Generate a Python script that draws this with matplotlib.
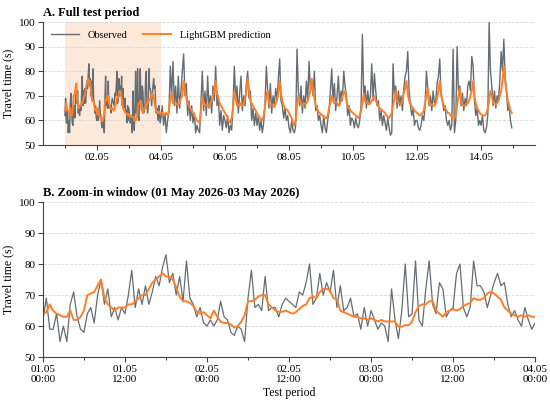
import numpy as np
import pandas as pd
import matplotlib
matplotlib.use('Agg')
import matplotlib.pyplot as plt
import matplotlib.dates as mdates

plt.rcParams['font.family'] = ['Liberation Serif', 'DejaVu Serif']

# zoom-in window, 30 min steps, 01.05 00:00 -> 04.05 00:00
zoom_obs = [62, 69, 59, 59, 64, 55, 60, 55, 67, 71, 63, 59, 58, 64, 66, 61, 70, 75, 67, 72, 63, 66, 62, 66,
            64, 70, 78, 66, 72, 67, 73, 67, 71, 76, 73, 79, 83, 74, 77, 70, 76, 68, 81, 69, 67, 63, 66, 61,
            60, 62, 60, 62, 68, 63, 62, 58, 57, 60, 59, 55, 69, 78, 66, 67, 65, 76, 65, 66, 66, 63, 67, 69,
            68, 67, 66, 71, 70, 74, 80, 67, 69, 77, 70, 74, 71, 78, 66, 73, 65, 66, 69, 63, 64, 59, 66, 60,
            65, 62, 59, 61, 60, 55, 72, 62, 56, 65, 80, 63, 64, 81, 62, 60, 72, 81, 67, 64, 74, 72, 63, 65,
            66, 77, 80, 66, 63, 66, 81, 73, 73, 71, 66, 70, 74, 77, 73, 74, 67, 63, 65, 62, 60, 66, 62, 59,
            61]
zoom_pred = [64, 64.5, 67, 65, 64, 63.5, 63, 63, 65, 62, 62, 63, 65, 70, 70.5, 71, 73, 75, 69, 67, 66, 65, 66, 66,
             66, 67, 67, 68, 69, 70, 70, 72, 74, 75, 76, 77, 76, 76, 75, 72.5, 69.5, 68, 68, 67.5, 66.5, 64.6, 64, 64.5,
             63.5, 62.5, 65, 63, 61.4, 61, 61, 60.5, 59.5, 60, 61.4, 63.5, 68, 68, 68.5, 69.5, 70, 70, 67, 66, 65, 64.6, 64.6, 65,
             64.5, 64, 64.5, 65.5, 66.5, 67, 69, 69.5, 69, 71, 72, 72, 71.5, 69, 68.5, 65, 64.5, 64, 63.5, 63, 63, 62.5, 62.5, 62,
             62.5, 62, 61.5, 62, 61.5, 61.5, 61.5, 61.5, 59.8, 59.8, 60.3, 60.3, 61.5, 64.5, 66.5, 67, 67, 68, 68, 65, 64, 63, 64.5, 65,
             65.5, 65, 65.5, 66.5, 67, 67.5, 69, 68.5, 68.5, 69, 70.5, 71, 70.5, 69.5, 68.5, 66, 65, 64, 63.5, 63, 63.5, 63, 63.5, 63,
             63]

# rest of the test period, hourly, 04.05 00:00 -> 14.05 23:00
hour_obs = [61, 66, 58, 63, 55, 60, 64, 82, 70, 84, 66, 74, 63, 78, 65, 72, 80, 87, 70, 75, 62, 68, 60, 66,
            59, 63, 55, 58, 56, 55, 68, 80, 64, 72, 62, 78, 65, 70, 63, 74, 68, 82, 66, 70, 58, 64, 56, 62,
            60, 57, 62, 55, 58, 56, 66, 82, 68, 74, 63, 71, 78, 64, 70, 66, 75, 80, 69, 72, 60, 65, 58, 63,
            58, 62, 56, 60, 55, 59, 67, 82, 72, 65, 75, 63, 70, 66, 73, 68, 77, 85, 68, 66, 61, 65, 60, 62,
            57, 55, 60, 56, 55, 58, 89, 72, 66, 74, 63, 70, 65, 76, 68, 84, 72, 76, 70, 80, 64, 66, 60, 62,
            58, 55, 62, 57, 55, 60, 64, 72, 81, 68, 75, 64, 70, 78, 66, 72, 68, 80, 74, 70, 62, 66, 58, 61,
            60, 57, 61, 58, 57, 60, 66, 95, 70, 74, 65, 72, 67, 70, 83, 68, 79, 72, 66, 68, 60, 64, 58, 62,
            59, 56, 61, 57, 54, 55, 83, 70, 74, 65, 72, 66, 70, 64, 73, 78, 80, 88, 72, 66, 62, 65, 58, 60,
            60, 57, 56, 58, 62, 60, 66, 80, 73, 66, 70, 64, 72, 67, 68, 75, 78, 85, 70, 68, 64, 66, 60, 58,
            60, 56, 58, 89, 55, 60, 90, 72, 74, 66, 71, 64, 69, 66, 74, 76, 72, 86, 82, 68, 62, 65, 58, 60,
            58, 62, 56, 55, 57, 62, 100, 80, 74, 66, 72, 65, 70, 68, 76, 88, 80, 93, 78, 72, 64, 66, 60, 57]
hour_pred = [63, 63, 62, 62.5, 63, 62, 64, 69, 71, 67, 67, 66.5, 67, 66, 67.5, 69, 70, 76, 72, 69, 67, 66, 65, 64,
             63, 62, 61, 60, 59.5, 59, 64, 70, 67, 66, 66.5, 66, 65.5, 67, 68, 70, 72, 76, 71, 69, 67, 66, 65, 64,
             63, 62, 61, 59.5, 59, 61, 65, 72, 69, 66, 66.5, 66, 67, 66, 67, 69, 72, 77, 72, 68, 67, 66, 65, 64,
             63, 62, 61, 60.5, 60, 62, 66, 70, 72, 67, 66, 66.5, 66, 65.5, 67, 68, 71, 76, 71, 68, 66, 65, 64.5, 64,
             63, 62, 61, 59, 58, 60, 66, 70, 68, 67, 66, 67, 66.5, 67, 68, 70, 72, 77, 72, 69, 66, 65, 63.5, 63,
             62.5, 62, 61.5, 61, 61, 62, 65, 67, 70, 68, 67, 67.5, 67, 66, 67, 68, 70, 71, 72, 68, 66, 65, 64, 63.5,
             63, 62.5, 62, 61.5, 61, 62, 64, 67, 71, 68, 67, 67, 66.5, 67, 68, 69, 70, 68, 67, 65.5, 65, 64.5, 64, 63.5,
             63, 62, 61.5, 61, 62, 63, 66, 69, 72, 68, 67, 67, 66.5, 68, 71, 73, 76, 71, 68, 67, 65.5, 65, 64, 63.5,
             63, 62.5, 62, 62.5, 63, 64, 67, 70, 73, 68, 66, 66.5, 66, 66, 67, 69, 72, 76, 71, 68, 66, 65, 64, 63,
             63, 62, 61.5, 61, 61, 62, 66, 70, 73, 68, 66.5, 66, 66, 67, 67, 68, 70, 72, 76, 70, 67, 65, 64, 63,
             62.5, 62, 62, 62, 63, 65, 68, 72, 70, 67, 67, 66.5, 67, 68, 70, 72, 76, 82, 76, 72, 68, 66, 64, 63]

zoom_time = pd.date_range('2026-05-01 00:00', '2026-05-04 00:00', freq='30min')
hour_time = pd.date_range('2026-05-04 00:00', periods=len(hour_obs), freq='h')

full_time = zoom_time[:-1].append(hour_time)
full_obs = zoom_obs[:-1] + hour_obs
full_pred = zoom_pred[:-1] + hour_pred

c_obs = '#656c73'
c_pred = '#ff7f27'
c_shade = '#fde9da'
c_spine = '#444444'


def style(ax):
    ax.spines['top'].set_visible(False)
    ax.spines['right'].set_visible(False)
    for s in ['left', 'bottom']:
        ax.spines[s].set_color(c_spine)
        ax.spines[s].set_linewidth(0.8)
    ax.set_ylim(50, 100)
    ax.set_yticks([50, 60, 70, 80, 90, 100])
    ax.yaxis.grid(True, linestyle='--', color='#d8d8d8', linewidth=0.6)
    ax.set_axisbelow(True)
    ax.tick_params(axis='both', which='major', labelsize=8, length=3.5, width=0.8,
                   color=c_spine, direction='out', pad=2)
    ax.tick_params(axis='x', which='minor', length=2.5, width=0.8, color=c_spine)
    ax.set_ylabel('Travel time (s)', fontsize=8.5, labelpad=3)


fig = plt.figure(figsize=(5.5, 4.04), dpi=100)
ax1 = fig.add_axes([0.078, 0.641, 0.895, 0.3045])
ax2 = fig.add_axes([0.078, 0.116, 0.895, 0.384])

# A. full period
ax1.axvspan(zoom_time[0], zoom_time[-1], color=c_shade, zorder=0, lw=0)
ax1.plot(full_time, full_obs, color=c_obs, lw=1.0, label='Observed')
ax1.plot(full_time, full_pred, color=c_pred, lw=1.4, label='LightGBM prediction')
ax1.set_xlim(pd.Timestamp('2026-04-30 07:30'), pd.Timestamp('2026-05-15 16:30'))
ax1.xaxis.set_major_locator(mdates.DayLocator(bymonthday=range(2, 32, 2)))
ax1.xaxis.set_minor_locator(mdates.DayLocator(bymonthday=range(1, 32, 2)))
ax1.xaxis.set_major_formatter(mdates.DateFormatter('%d.%m'))
style(ax1)
ax1.set_title('A. Full test period', loc='left', fontweight='bold', fontsize=9, pad=4)
ax1.legend(loc='upper left', ncol=2, frameon=False, fontsize=7.5, handlelength=2.7,
           columnspacing=1.5, bbox_to_anchor=(0.0, 1.0), borderaxespad=0.4)

# B. zoom-in window
ax2.plot(zoom_time, zoom_obs, color=c_obs, lw=0.9)
ax2.plot(zoom_time, zoom_pred, color=c_pred, lw=1.4)
ax2.set_xlim(zoom_time[0], zoom_time[-1])
ax2.xaxis.set_major_locator(mdates.HourLocator(byhour=[0, 12]))
ax2.xaxis.set_minor_locator(mdates.HourLocator(byhour=[6, 18]))
ax2.xaxis.set_major_formatter(mdates.DateFormatter('%d.%m\n%H:%M'))
style(ax2)
ax2.set_title('B. Zoom-in window (01 May 2026-03 May 2026)', loc='left',
              fontweight='bold', fontsize=9, pad=4)
ax2.set_xlabel('Test period', fontsize=8.5, labelpad=2)

fig.savefig('out.png', dpi=100)
